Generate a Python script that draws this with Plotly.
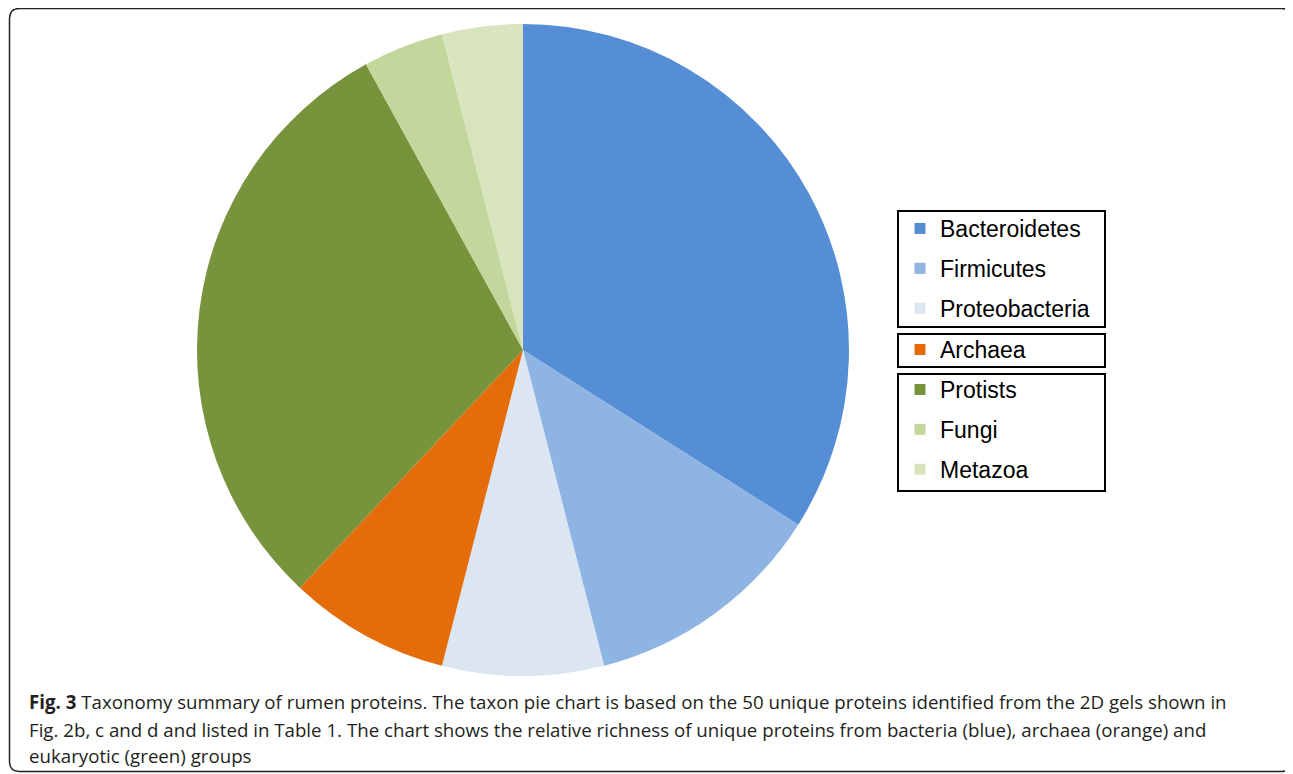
import plotly.graph_objects as go

OFF = 8  # page margin offset in the screenshot
W, H = 1293 - OFF, 774 - OFF


def px(x):
    return (x - OFF) / W


def py(y):
    return 1 - (y - OFF) / H


labels = ["Bacteroidetes", "Firmicutes", "Proteobacteria", "Archaea", "Protists", "Fungi", "Metazoa"]
counts = [17, 6, 4, 4, 15, 2, 2]
colors = ["#558ED5", "#8EB4E3", "#DCE6F2", "#E46C0A", "#77933C", "#C3D69B", "#D7E4BD"]
legend_of = ["legend", "legend", "legend", "legend2", "legend3", "legend3", "legend3"]

caption_lines = [
    "<b>Fig. 3</b> Taxonomy summary of rumen proteins. The taxon pie chart is based on the 50 unique proteins identified from the 2D gels shown in",
    "Fig. 2b, c and d and listed in Table 1. The chart shows the relative richness of unique proteins from bacteria (blue), archaea (orange) and",
    "eukaryotic (green) groups",
]

fig = go.Figure()

fig.add_trace(go.Pie(
    labels=labels, values=counts, sort=False, direction="clockwise", rotation=0,
    marker=dict(colors=colors, line=dict(width=0)),
    textinfo="none", hoverinfo="label+value", showlegend=False,
    domain=dict(x=[px(197), px(849)], y=[py(676), py(24)]),
))

for lab, col, lg in zip(labels, colors, legend_of):
    fig.add_trace(go.Scatter(
        x=[None], y=[None], mode="markers", name=lab, legend=lg, legendgroup=lab,
        marker=dict(symbol="square", size=11, color=col),
    ))

leg_common = dict(
    xanchor="left", yanchor="top", borderwidth=0,
    bgcolor="rgba(0,0,0,0)", font=dict(family="Liberation Sans, Arial", size=23, color="#000000"),
    tracegroupgap=7, itemclick=False, itemdoubleclick=False,
)

fig.update_layout(
    width=W, height=H, margin=dict(l=0, r=0, t=0, b=0),
    paper_bgcolor="white", plot_bgcolor="white",
    xaxis=dict(visible=False), yaxis=dict(visible=False),
    legend=dict(x=px(900), y=py(207), **leg_common),
    legend2=dict(x=px(900), y=py(328), **leg_common),
    legend3=dict(x=px(900), y=py(368), **leg_common),
)

# legend group boxes
for top, bot in [(211, 327), (334, 367), (374, 491)]:
    fig.add_shape(type="rect", xref="paper", yref="paper",
                  x0=px(898), x1=px(1105), y0=py(bot), y1=py(top),
                  line=dict(color="#000000", width=2))

# outer rounded frame
x0, y0, x1, y1, r = px(9.5), py(8.5), px(1291.5), py(771.5), 10
rx, ry = r / W, r / H
path = (f"M {x0+rx} {y0} L {x1-rx} {y0} Q {x1} {y0} {x1} {y0-ry} "
        f"L {x1} {y1+ry} Q {x1} {y1} {x1-rx} {y1} L {x0+rx} {y1} "
        f"Q {x0} {y1} {x0} {y1+ry} L {x0} {y0-ry} Q {x0} {y0} {x0+rx} {y0} Z")
fig.add_shape(type="path", path=path, xref="paper", yref="paper",
              line=dict(color="#222222", width=1.5))

line_y = [701, 729, 755]
for txt, yy in zip(caption_lines, line_y):
    fig.add_annotation(
        text=txt, x=px(27), y=py(yy), xref="paper", yref="paper",
        xanchor="left", yanchor="middle", showarrow=False, align="left",
        font=dict(family="Open Sans", size=18.7, color="#231F20"),
    )

fig.write_html("out.html")
